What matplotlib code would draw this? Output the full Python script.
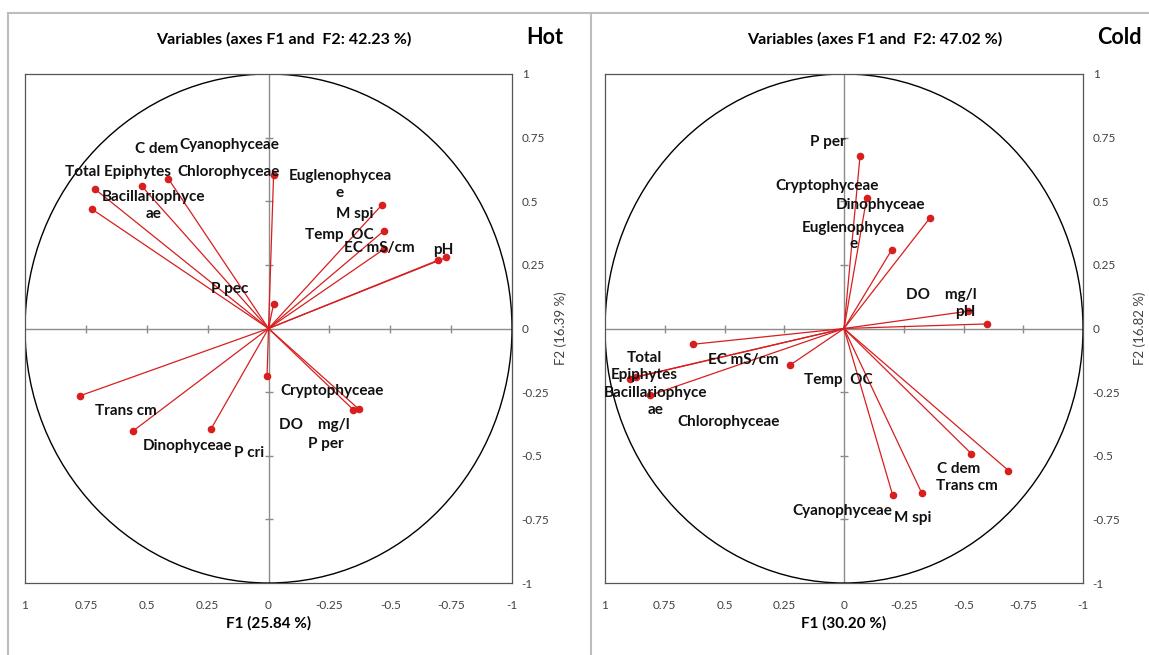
import numpy as np
import matplotlib
matplotlib.use("Agg")
import matplotlib.pyplot as plt
from matplotlib.patches import Circle
from matplotlib.lines import Line2D

plt.rcParams['font.family'] = ['Lato', 'DejaVu Sans']

# ---- data ----
tick_vals = [1, 0.75, 0.5, 0.25, 0, -0.25, -0.5, -0.75, -1]
tick_text = ['1', '0.75', '0.5', '0.25', '0', '-0.25', '-0.5', '-0.75', '-1']

hot_vars = ["Total Epiphytes", "Bacillariophyce\nae", "C dem", "Chlorophyceae",
            "Cyanophyceae", "Euglenophycea\ne", "M spi", "Temp  OC", "EC mS/cm", "pH",
            "P pec", "Trans cm", "Dinophyceae", "P cri", "Cryptophyceae",
            "DO    mg/l", "P per"]
hot_f1 = [0.713, 0.725, 0.520, 0.411, -0.021, -0.466, -0.473, -0.473, -0.698, -0.731,
          -0.021, 0.773, 0.558, 0.235, 0.006, -0.349, -0.370]
hot_f2 = [0.548, 0.469, 0.559, 0.588, 0.605, 0.486, 0.383, 0.311, 0.269, 0.279,
          0.097, -0.264, -0.404, -0.393, -0.187, -0.320, -0.316]

cold_vars = ["P per", "Cryptophyceae", "Dinophyceae", "Euglenophycea\ne", "DO    mg/l",
             "pH", "EC mS/cm", "Temp  OC", "Total\nEpiphytes", "Chlorophyceae",
             "Bacillariophyce\nae", "C dem", "Trans cm", "Cyanophyceae", "M spi"]
cold_f1 = [-0.067, -0.095, -0.360, -0.199, -0.520, -0.597, 0.632, 0.226, 0.895, 0.870,
           0.810, -0.533, -0.688, -0.204, -0.325]
cold_f2 = [0.677, 0.513, 0.435, 0.308, 0.068, 0.018, -0.062, -0.144, -0.197, -0.190,
           -0.262, -0.492, -0.558, -0.656, -0.646]

# label offsets from each point, in pixels (layout only)
hot_off = [(23, 17), (62, 4), (15, 37), (60, 7), (-44, 30), (-42, 20), (-29, 17),
           (-44, 14), (-59, 12), (-3, 7), (-44, 15), (46, -15), (55, -15), (38, -24),
           (65, -15), (-39, -15), (-33, -35)]
cold_off = [(-32, 14), (-40, 12), (-50, 13), (-38, 14), (-27, 16), (-21, 12), (50, -16),
            (48, -15), (14, 12), (92, -45), (5, -6), (-13, -15), (-42, -15), (-50, -16),
            (-9, -25)]

RED = '#d81e1e'
GRID = '#8c8c8c'


def draw_panel(ax, names, f1, f2, offs, title, title_x, tag, xlab, ylab, ylab_x):
    ax.set_xlim(1, -1)
    ax.set_ylim(-1, 1)
    ax.set_xticks(tick_vals)
    ax.set_xticklabels(tick_text)
    ax.set_yticks(tick_vals)
    ax.set_yticklabels(tick_text)
    ax.yaxis.tick_right()
    ax.yaxis.set_label_position('right')
    ax.tick_params(length=0, labelsize=8.5, labelcolor='#404040')
    ax.tick_params(axis='x', pad=12)
    ax.tick_params(axis='y', pad=7)
    for s in ax.spines.values():
        s.set_color('#555555')
        s.set_linewidth(0.9)

    # crosshair with small tick marks
    ax.axhline(0, color=GRID, lw=1, zorder=1)
    ax.axvline(0, color=GRID, lw=1, zorder=1)
    inner = [t for t in tick_vals if abs(t) < 1]
    ax.plot(inner, np.zeros(len(inner)), ls='none', marker='|', ms=6, color=GRID, zorder=1)
    ax.plot(np.zeros(len(inner)), inner, ls='none', marker='_', ms=6, color=GRID, zorder=1)

    ax.add_patch(Circle((0, 0), 1, fill=False, ec='black', lw=1, zorder=2))

    for name, x, y, o in zip(names, f1, f2, offs):
        ax.plot([0, x], [0, y], color=RED, lw=0.9, zorder=3)
        ax.annotate(name, (x, y), xytext=o, textcoords='offset pixels',
                    ha='center', va='center', multialignment='center',
                    fontsize=11, fontweight='bold', color='#111111', zorder=5,
                    linespacing=1.25)
    ax.scatter(f1, f2, s=20, color=RED, zorder=4)

    ax.set_title(title, fontsize=11.5, fontweight='bold', pad=22, x=title_x)
    ax.set_xlabel(xlab, fontsize=11, fontweight='bold', labelpad=4)
    ax.set_ylabel(ylab, fontsize=9.5, color='#404040')
    ax.yaxis.set_label_coords(ylab_x, 0.5)
    ax.text(1.03, 1.071, tag, transform=ax.transAxes, fontsize=15.5,
            fontweight='bold', ha='left', va='center')


fig = plt.figure(figsize=(11.49, 6.55), dpi=100)
ax1 = fig.add_axes([25 / 1149, 72 / 655, 487 / 1149, 509 / 655])
ax2 = fig.add_axes([605 / 1149, 72 / 655, 478 / 1149, 509 / 655])

draw_panel(ax1, hot_vars, hot_f1, hot_f2, hot_off,
           "Variables (axes F1 and  F2: 42.23 %)", 0.532, "Hot",
           "F1 (25.84 %)", "F2 (16.39 %)", 1.088)
draw_panel(ax2, cold_vars, cold_f1, cold_f2, cold_off,
           "Variables (axes F1 and  F2: 47.02 %)", 0.565, "Cold",
           "F1 (30.20 %)", "F2 (16.82 %)", 1.105)

# outer frame and separator
fc = '#bdbdbd'
fig.add_artist(Line2D([8 / 1149, 1], [1 - 13 / 655] * 2, color=fc, lw=1.5))
fig.add_artist(Line2D([8 / 1149] * 2, [0, 1 - 13 / 655], color=fc, lw=1.5))
fig.add_artist(Line2D([591 / 1149] * 2, [0, 1 - 13 / 655], color=fc, lw=1.5))

fig.savefig('out.png', dpi=100)
